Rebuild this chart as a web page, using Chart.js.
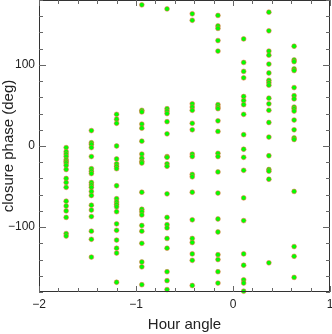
<!DOCTYPE html>
<html lang="en">
<head>
  <meta charset="UTF-8" />
  <title>Closure phase vs hour angle</title>
  <script src="https://cdn.jsdelivr.net/npm/chart.js"></script>
  <style>
    html, body { margin: 0; padding: 0; background: #fff; }
    #wrap { width: 332px; height: 334px; position: relative; }
  </style>
</head>
<body>
  <div id="wrap"><canvas id="cp"></canvas></div>
  <script>
    // hour angle of each observation group
    const hourAngles = [-1.72, -1.46, -1.20, -0.94, -0.68, -0.42, -0.155, 0.11, 0.37, 0.63];

    // closure phases (deg) per group
    const phase1 = [-2, -7, -10, -13, -17, -19, -21, -24, -29, -40, -45, -51, -68, -74, -80, -88, -108, -111];
    const phase2 = [19, 4, 2, -2, -13, -28, -31, -34, -45, -48, -51, -56, -61, -73, -79, -87, -105, -115, -137];
    const phase3 = [39, 33, 28, 0, -16, -22, -25, -28, -49, -65, -69, -72, -75, -81, -96, -104, -116, -126, -132, -168];
    const phase4 = [174, 44, 42, 27, 22, 6, -10, -15, -19, -21, -57, -78, -81, -85, -98, -105, -120, -143, -149, -171];
    const phase5 = [169, 46, 43, 40, 30, 15, -13, -14, -22, -25, -59, -88, -97, -101, -114, -126, -155, -166, -177];
    const phase6 = [163, 155, 52, 48, 44, 28, 20, -10, -13, -35, -38, -57, -91, -114, -119, -133, -141, -172];
    const phase7 = [161, 148, 145, 130, 117, 51, 48, 46, 31, 18, -9, -13, -32, -58, -90, -106, -134, -140, -155, -169];
    const phase8 = [132, 103, 92, 84, 61, 56, 51, 39, 14, -4, -14, -30, -64, -92, -133, -147, -165, -169, -179];
    const phase9 = [165, 142, 117, 112, 101, 90, 81, 78, 75, 59, 52, 44, 29, 11, -12, -29, -31, -41, -144];
    const phase10 = [123, 106, 104, 95, 93, 72, 62, 58, 48, 46, 43, 32, 20, 10, 8, -56, -124, -136, -162];

    const phases = [phase1, phase2, phase3, phase4, phase5, phase6, phase7, phase8, phase9, phase10];

    const xMajor = [-2, -1, 0, 1];
    const yMajor = [-100, 0, 100];

    const points = [];
    phases.forEach((col, i) => col.forEach(v => points.push({ x: hourAngles[i], y: v })));

    const minus = v => String(v).replace('-', '\u2212');
    const FONT = "'Liberation Sans', Arial, sans-serif";

    // IDL style frame with inward ticks on all four sides
    const frame = {
      id: 'frame',
      afterDatasetsDraw(chart) {
        const { ctx, chartArea: a, scales } = chart;
        ctx.save();
        ctx.strokeStyle = '#333';
        ctx.lineWidth = 1;
        ctx.beginPath();
        ctx.rect(a.left + 0.5, a.top + 0.5, a.right - a.left - 1, a.bottom - a.top - 1);
        ctx.stroke();
        ctx.strokeStyle = '#666';
        ctx.beginPath();
        scales.x.ticks.forEach(t => {
          const px = Math.round(scales.x.getPixelForValue(t.value)) + 0.5;
          const len = xMajor.some(m => Math.abs(m - t.value) < 1e-6) ? 6 : 4;
          ctx.moveTo(px, a.bottom); ctx.lineTo(px, a.bottom - len);
          ctx.moveTo(px, a.top); ctx.lineTo(px, a.top + len);
        });
        scales.y.ticks.forEach(t => {
          const py = Math.round(scales.y.getPixelForValue(t.value)) + 0.5;
          const len = yMajor.includes(t.value) ? 7 : 4;
          ctx.moveTo(a.left, py); ctx.lineTo(a.left + len, py);
          ctx.moveTo(a.right, py); ctx.lineTo(a.right - len, py);
        });
        ctx.stroke();
        ctx.restore();
      }
    };

    new Chart(document.getElementById('cp'), {
      type: 'scatter',
      data: {
        datasets: [{
          data: points,
          pointStyle: 'circle',
          pointRadius: 2.4,
          pointHoverRadius: 2.4,
          backgroundColor: '#00ff00',
          borderColor: 'rgba(250,100,70,0.6)',
          borderWidth: 0.9,
          clip: false
        }]
      },
      options: {
        responsive: true,
        maintainAspectRatio: false,
        animation: false,
        layout: { autoPadding: false, padding: { top: 0, right: 2, left: 0, bottom: 0 } },
        plugins: { legend: { display: false }, tooltip: { enabled: false } },
        scales: {
          x: {
            type: 'linear',
            min: -2, max: 1,
            grid: { display: false, drawTicks: false },
            border: { display: false },
            ticks: {
              stepSize: 0.2,
              autoSkip: false,
              maxRotation: 0,
              padding: 5,
              color: '#222',
              font: { family: FONT, size: 12 },
              callback: v => xMajor.some(m => Math.abs(m - v) < 1e-6) ? minus(Math.round(v)) : ''
            },
            title: {
              display: true,
              text: 'Hour angle',
              color: '#222',
              font: { family: FONT, size: 15 },
              padding: { top: 4, bottom: 0 }
            },
            afterFit: s => { s.height = 42; s.paddingLeft = 0; s.paddingRight = 0; }
          },
          y: {
            type: 'linear',
            min: -180, max: 180,
            grid: { display: false, drawTicks: false },
            border: { display: false },
            ticks: {
              stepSize: 20,
              autoSkip: false,
              padding: 4,
              color: '#222',
              font: { family: FONT, size: 12 },
              callback: v => yMajor.includes(v) ? minus(v) : ''
            },
            title: {
              display: true,
              text: 'closure phase (deg)',
              color: '#222',
              font: { family: FONT, size: 15 },
              padding: { top: 0, bottom: 2 }
            },
            afterFit: s => { s.width = 39; s.paddingTop = 0; s.paddingBottom = 0; }
          }
        }
      },
      plugins: [frame]
    });
  </script>
</body>
</html>
